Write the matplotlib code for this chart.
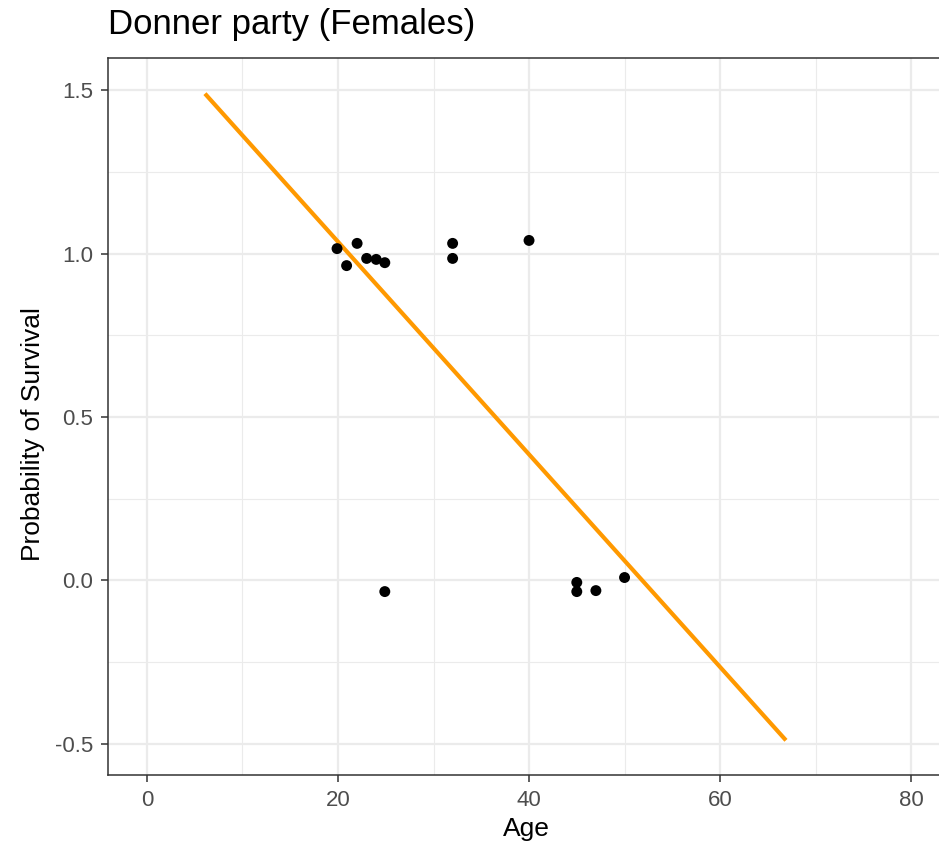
import matplotlib
matplotlib.use("Agg")
import matplotlib.pyplot as plt
from matplotlib.ticker import MultipleLocator

plt.rcParams['font.family'] = ['Liberation Sans', 'DejaVu Sans']

# Jittered observations: age vs survival (1 = survived, 0 = died)
age = [19.9, 20.9, 22.0, 23.0, 24.0, 24.9, 32.0, 32.0, 40.0,
       24.9, 45.0, 45.0, 47.0, 50.0]
survival = [1.015, 0.963, 1.031, 0.985, 0.982, 0.972, 1.031, 0.985, 1.040,
            -0.034, -0.006, -0.034, -0.031, 0.009]

# Fitted linear trend endpoints
fit_age = [6.07, 66.9]
fit_prob = [1.489, -0.489]

x_ticks = [0, 20, 40, 60, 80]
y_ticks = [-0.5, 0.0, 0.5, 1.0, 1.5]

W, H = 939, 847
fig = plt.figure(figsize=(W / 100, H / 100), dpi=100)
ax = fig.add_axes([108 / W, 72 / H, 837 / W, 717 / H])

ax.set_xlim(-4.08, 83.55)
ax.set_ylim(-0.595, 1.598)

ax.set_xticks(x_ticks)
ax.set_xticklabels([f"{v:d}" for v in x_ticks])
ax.set_yticks(y_ticks)
ax.set_yticklabels([f"{v:.1f}" for v in y_ticks])
ax.xaxis.set_minor_locator(MultipleLocator(10))
ax.yaxis.set_minor_locator(MultipleLocator(0.25))

ax.grid(which='major', color='#EBEBEB', linewidth=1.6)
ax.grid(which='minor', color='#EBEBEB', linewidth=0.8)
ax.set_axisbelow(True)

ax.plot(fit_age, fit_prob, color='#FF9900', linewidth=3.0,
        solid_capstyle='butt', zorder=2)
ax.scatter(age, survival, s=62, color='black', edgecolors='none', zorder=3)

ax.tick_params(which='major', length=5, width=1.1, color='#333333',
               labelcolor='#4D4D4D', labelsize=16, pad=5.8)
ax.tick_params(which='minor', length=0)

for side in ['left', 'bottom', 'top', 'right']:
    ax.spines[side].set_color('#333333')
    ax.spines[side].set_linewidth(1.1)

ax.set_xlabel('Age', fontsize=19)
ax.xaxis.label.set_va('baseline')
ax.xaxis.set_label_coords(0.5, (775 - 836) / 717)

ax.set_ylabel('Probability of Survival', fontsize=19)
ax.yaxis.label.set_va('center')
ax.yaxis.label.set_ha('center')
ax.yaxis.set_label_coords((33 - 108) / 837, (775 - 434) / 717)

fig.text(108 / W, 1 - 34 / H, 'Donner party (Females)', fontsize=25,
         ha='left', va='baseline')

fig.savefig('out.png', dpi=100)
